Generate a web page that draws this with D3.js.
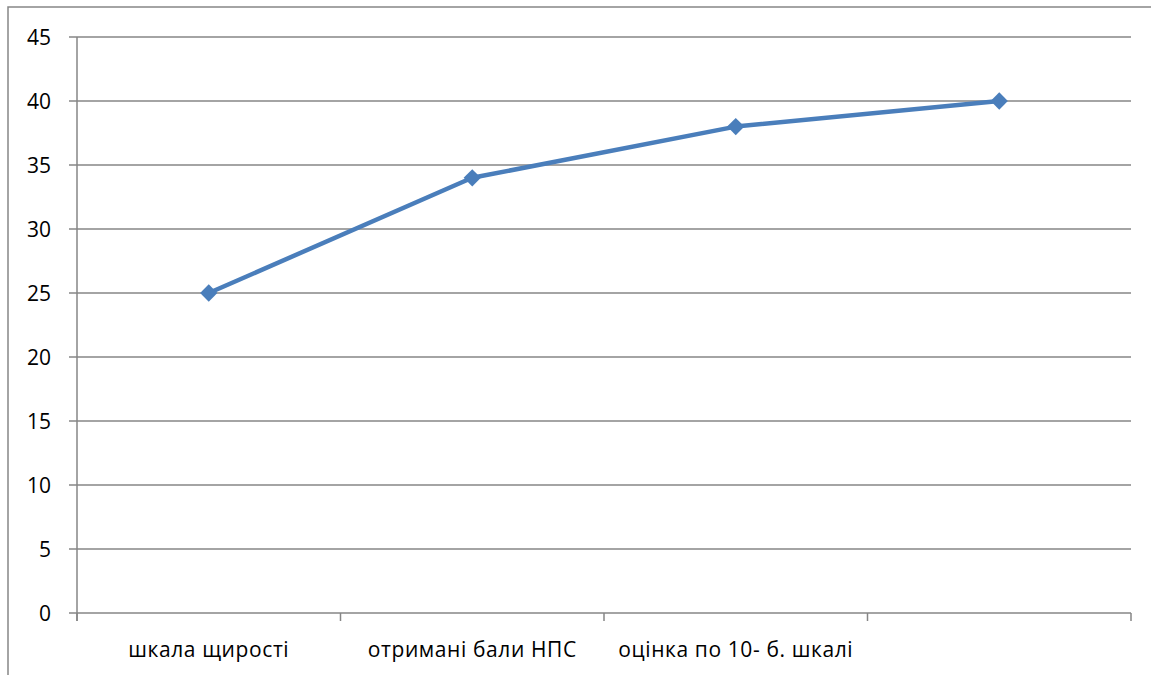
<!DOCTYPE html>
<html>
<head>
<meta charset="utf-8">
<script src="https://cdn.jsdelivr.net/npm/d3@7"></script>
<style>
  html, body { margin: 0; padding: 0; background: #fff; }
  svg { display: block; }
  text { font-family: "Open Sans", Lato, sans-serif; fill: #000; }
</style>
</head>
<body>
<svg id="chart" width="1151" height="675"></svg>
<script>
// Series data
const categories = ["шкала щирості", "отримані бали НПС", "оцінка по 10- б. шкалі", ""];
const values = [25, 34, 38, 40];
const yTicks = [0, 5, 10, 15, 20, 25, 30, 35, 40, 45];

const svg = d3.select("#chart");
const W = 1151, H = 675;
const margin = { left: 77, top: 37 };
const plotRight = 1131;

// outer chart frame
svg.append("rect")
  .attr("x", 8).attr("y", 7)
  .attr("width", W + 10).attr("height", H + 10)
  .attr("fill", "none").attr("stroke", "#868686").attr("stroke-width", 1.5);

const x = d3.scaleBand().domain(d3.range(categories.length)).range([margin.left, plotRight]).padding(0);
const y = d3.scaleLinear().domain([0, 45]).range([613, margin.top]);

const gridColor = "#868686";

// horizontal gridlines with left tick stubs
svg.append("g").selectAll("line").data(yTicks).join("line")
  .attr("x1", 69).attr("x2", plotRight)
  .attr("y1", d => y(d)).attr("y2", d => y(d))
  .attr("stroke", gridColor).attr("stroke-width", 1.5);

// y axis line
svg.append("line")
  .attr("x1", margin.left).attr("x2", margin.left)
  .attr("y1", y(45)).attr("y2", y(0) + 8)
  .attr("stroke", gridColor).attr("stroke-width", 1.5);

// x category tick marks (at band boundaries)
const bounds = categories.map((c, i) => x(i)).concat([plotRight]);
svg.append("g").selectAll("line").data(bounds).join("line")
  .attr("x1", d => d).attr("x2", d => d)
  .attr("y1", y(0)).attr("y2", y(0) + 8)
  .attr("stroke", gridColor).attr("stroke-width", 1.5);

// y tick labels
svg.append("g").selectAll("text").data(yTicks).join("text")
  .attr("x", 51).attr("y", d => y(d))
  .attr("dy", "0.36em")
  .attr("text-anchor", "end")
  .attr("font-size", 21)
  .text(d => d);

// x category labels
svg.append("g").selectAll("text").data(categories).join("text")
  .attr("x", (d, i) => x(i) + x.bandwidth() / 2)
  .attr("y", 657)
  .attr("text-anchor", "middle")
  .attr("font-size", 21)
  .attr("letter-spacing", 0.6)
  .text(d => d);

// series line
const lineColor = "#4a7ebb";
const line = d3.line()
  .x((d, i) => x(i) + x.bandwidth() / 2)
  .y(d => y(d));

svg.append("path")
  .datum(values)
  .attr("d", line)
  .attr("fill", "none")
  .attr("stroke", lineColor)
  .attr("stroke-width", 4.5)
  .attr("stroke-linejoin", "round");

// diamond markers
const diamond = d3.symbol().type(d3.symbolDiamond2).size(190);
svg.append("g").selectAll("path").data(values).join("path")
  .attr("transform", (d, i) => `translate(${x(i) + x.bandwidth() / 2},${y(d)})`)
  .attr("d", diamond)
  .attr("fill", lineColor);
</script>
</body>
</html>
